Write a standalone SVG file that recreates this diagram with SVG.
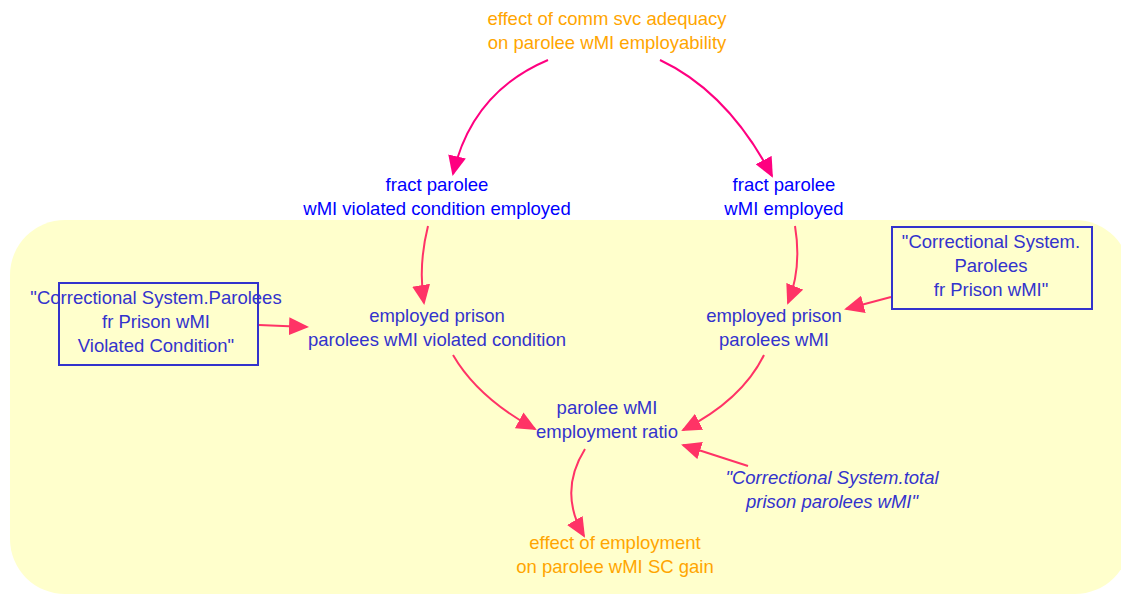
<svg xmlns="http://www.w3.org/2000/svg" width="1121" height="595" viewBox="0 0 1121 595">
  <style>
    text { font-family: "Liberation Sans", Arial, sans-serif; font-size: 18.5px; text-anchor: middle; }
    .aux { fill: #FFA500; }
    .frac { fill: #0000FF; }
    .var { fill: #3333CC; }
    .ital { fill: #3333CC; font-style: italic; }
    .box { fill: none; stroke: #3333CC; stroke-width: 2; }
    .lnk-a { fill: none; stroke: #FF0080; stroke-width: 2; }
    .lnk-b { fill: none; stroke: #FF3366; stroke-width: 2; }
  </style>
  <defs>
    <marker id="headA" markerWidth="20" markerHeight="18" refX="18" refY="9" orient="auto" markerUnits="userSpaceOnUse">
      <path d="M0,0 L20,9 L0,18 Z" fill="#FF0080"/>
    </marker>
    <marker id="headB" markerWidth="20" markerHeight="18" refX="18" refY="9" orient="auto" markerUnits="userSpaceOnUse">
      <path d="M0,0 L20,9 L0,18 Z" fill="#FF3366"/>
    </marker>
  </defs>

  <!-- sector background -->
  <rect x="10" y="220" width="1120" height="374" rx="55" ry="55" fill="#FFFFCC"/>

  <g id="connectors">
    <path class="lnk-a" d="M548,60 Q472,92 453,174" marker-end="url(#headA)"/>
    <path class="lnk-a" d="M660,60 Q728,92 772,176" marker-end="url(#headA)"/>
    <path class="lnk-b" d="M428,226 Q418,266 424,303" marker-end="url(#headB)"/>
    <path class="lnk-b" d="M795,226 Q802,268 788,303" marker-end="url(#headB)"/>
    <path class="lnk-b" d="M891,297 L846,309" marker-end="url(#headB)"/>
    <path class="lnk-b" d="M259,325 L307,327" marker-end="url(#headB)"/>
    <path class="lnk-b" d="M453,355 Q478,398 535,429" marker-end="url(#headB)"/>
    <path class="lnk-b" d="M764,355 Q742,400 683,430" marker-end="url(#headB)"/>
    <path class="lnk-b" d="M748,466 L683,445" marker-end="url(#headB)"/>
    <path class="lnk-b" d="M585,449 Q558,492 584,536" marker-end="url(#headB)"/>
  </g>

  <g id="effect-comm-svc">
    <text class="aux" x="607" y="25">effect of comm svc adequacy</text>
    <text class="aux" x="607" y="49">on parolee wMI employability</text>
  </g>
  <g id="fract-violated-employed">
    <text class="frac" x="437" y="191">fract parolee</text>
    <text class="frac" x="437" y="215">wMI violated condition employed</text>
  </g>
  <g id="fract-employed">
    <text class="frac" x="784" y="191">fract parolee</text>
    <text class="frac" x="784" y="215">wMI employed</text>
  </g>
  <g id="parolees-violated-box">
    <rect class="box" x="59" y="283" width="199" height="82"/>
    <text class="var" x="156" y="304">"Correctional System.Parolees</text>
    <text class="var" x="156" y="328">fr Prison wMI</text>
    <text class="var" x="156" y="352">Violated Condition"</text>
  </g>
  <g id="employed-violated">
    <text class="var" x="437" y="322">employed prison</text>
    <text class="var" x="437" y="346">parolees wMI violated condition</text>
  </g>
  <g id="employed-parolees">
    <text class="var" x="774" y="322">employed prison</text>
    <text class="var" x="774" y="346">parolees wMI</text>
  </g>
  <g id="parolees-box">
    <rect class="box" x="892" y="227" width="200" height="82"/>
    <text class="var" x="991" y="248">"Correctional System.</text>
    <text class="var" x="991" y="272">Parolees</text>
    <text class="var" x="991" y="296">fr Prison wMI"</text>
  </g>
  <g id="employment-ratio">
    <text class="var" x="607" y="414">parolee wMI</text>
    <text class="var" x="607" y="438">employment ratio</text>
  </g>
  <g id="total-parolees">
    <text class="ital" x="832" y="484">"Correctional System.total</text>
    <text class="ital" x="832" y="508">prison parolees wMI"</text>
  </g>
  <g id="effect-employment">
    <text class="aux" x="615" y="549">effect of employment</text>
    <text class="aux" x="615" y="573">on parolee wMI SC gain</text>
  </g>
</svg>
